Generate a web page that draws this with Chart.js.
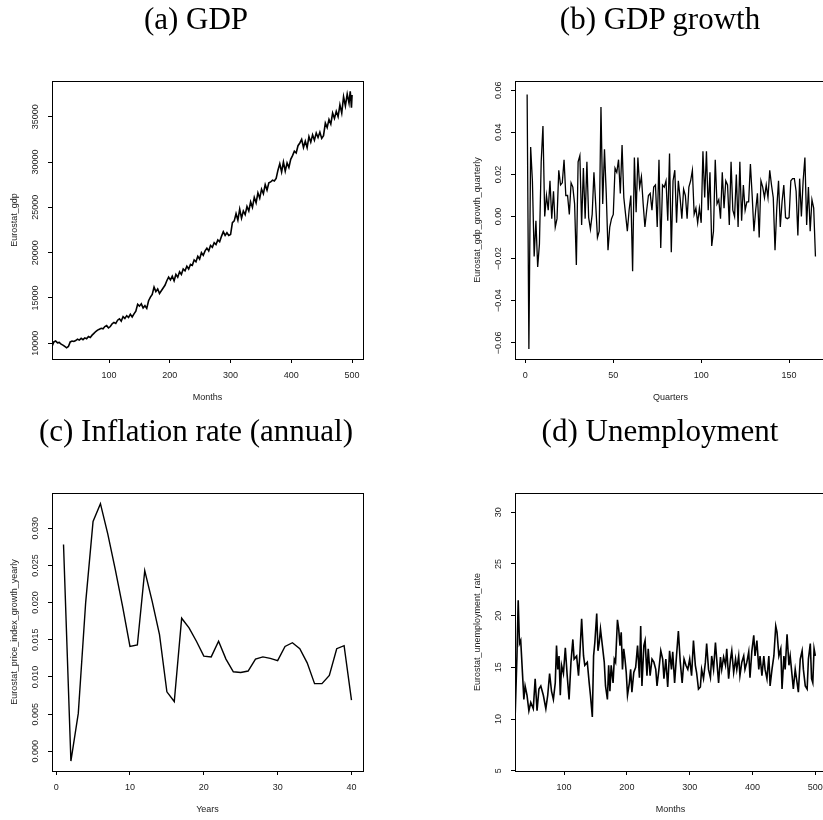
<!DOCTYPE html>
<html>
<head>
<meta charset="utf-8">
<script src="https://cdn.jsdelivr.net/npm/chart.js@4.4.0/dist/chart.umd.min.js"></script>
<style>
    html, body { margin: 0; padding: 0; background: #fff; }
    body { width: 823px; height: 820px; overflow: hidden; position: relative; }
    .panel { position: absolute; width: 412px; height: 412px; }
    .panel canvas { position: absolute; left: 0; top: 0; }
    .caption {
        position: absolute; width: 400px; text-align: center; white-space: nowrap;
        font-family: "Liberation Serif", "Times New Roman", serif; font-size: 31px; line-height: 31px; color: #000;
    }
</style>
</head>
<body>

<div class="panel" style="left:0; top:0;"><canvas id="chart-gdp" width="412" height="412"></canvas></div>
<div class="panel" style="left:463px; top:0;"><canvas id="chart-growth" width="412" height="412"></canvas></div>
<div class="panel" style="left:0; top:412px;"><canvas id="chart-inflation" width="412" height="412"></canvas></div>
<div class="panel" style="left:463px; top:412px;"><canvas id="chart-unemp" width="412" height="412"></canvas></div>

<div class="caption" style="left:-4px; top:3px;">(a) GDP</div>
<div class="caption" style="left:460px; top:3px;">(b) GDP growth</div>
<div class="caption" style="left:-4px; top:415px;">(c) Inflation rate (annual)</div>
<div class="caption" style="left:460px; top:415px;">(d) Unemployment</div>

<script>
/* (a) GDP, mensual */
const gdpMonths = [
    6, 9, 12, 15, 18, 21, 24, 27, 30, 33, 36, 39, 42, 45, 48, 51, 54, 57, 60, 63,
    66, 69, 72, 75, 78, 81, 84, 87, 90, 93, 96, 99, 102, 105, 108, 111, 114, 117, 120, 123,
    126, 129, 132, 135, 138, 141, 144, 147, 150, 153, 156, 159, 162, 165, 168, 171, 174, 177, 180, 183,
    186, 189, 192, 195, 198, 201, 204, 207, 210, 213, 216, 219, 222, 225, 228, 231, 234, 237, 240, 243,
    246, 249, 252, 255, 258, 261, 264, 267, 270, 273, 276, 279, 282, 285, 288, 291, 294, 297, 300, 303,
    306, 309, 312, 315, 318, 321, 324, 327, 330, 333, 336, 339, 342, 345, 348, 351, 354, 357, 360, 363,
    366, 369, 372, 375, 378, 381, 384, 387, 390, 393, 396, 399, 402, 405, 408, 411, 414, 417, 420, 423,
    426, 429, 432, 435, 438, 441, 444, 447, 450, 453, 456, 459, 462, 465, 468, 471, 474, 477, 480, 483,
    486, 489, 492, 495, 497, 499, 500
];
const gdpValues = [
    9650, 10150, 10250, 10050, 10100, 9900, 9800, 9650, 9500, 9650, 10150, 10250, 10200, 10300, 10450, 10350, 10550, 10400, 10600, 10500,
    10750, 10650, 10900, 11100, 11300, 11450, 11550, 11650, 11600, 11850, 11950, 11700, 11850, 12150, 12300, 12200, 12550, 12700, 12450, 12950,
    12750, 13050, 12850, 13200, 12900, 13250, 13550, 14300, 14100, 14350, 13900, 14150, 13850, 14700, 15100, 15400, 16200, 15700, 16000, 15500,
    15800, 16100, 16400, 16900, 17300, 17000, 17400, 16900, 17600, 17300, 17900, 17600, 18200, 18000, 18500, 18200, 18700, 18600, 19200, 19000,
    19600, 19300, 20000, 19700, 20200, 20500, 20200, 20800, 20600, 21100, 20900, 21400, 21200, 21800, 22300, 21900, 22200, 21900, 22000, 23300,
    23500, 24300, 23600, 24800, 23800, 24600, 24200, 25100, 24600, 25600, 25000, 26100, 25500, 26600, 26000, 27000, 26500, 27500, 26900, 27700,
    27800, 28000, 27900, 28200, 29100, 29800, 28900, 30000, 29000, 29900, 29400, 30300, 30700, 31200, 31000, 31800, 32100, 32500, 31600, 32300,
    31600, 32800, 32200, 33000, 32400, 33200, 32700, 33300, 32600, 32900, 34300, 33800, 34700, 34200, 35400, 34800, 35600, 35000, 36300, 35400,
    37200, 36200, 37500, 36500, 37800, 36000, 37400
];
const gdpXTicks = [100, 200, 300, 400, 500];
const gdpYTicks = [10000, 15000, 20000, 25000, 30000, 35000];
const gdpYLabels = ['10000', '15000', '20000', '25000', '30000', '35000'];

/* (b) crecimiento trimestral, trimestres 1..165 */
const growthQuarterly = [
    0.058, -0.063, 0.033, 0.017, -0.019, -0.002, -0.024, -0.013, 0.026, 0.043,
    0.000, 0.010, 0.003, 0.017, -0.001, 0.012, -0.005, -0.001, 0.022, 0.015,
    0.016, 0.027, 0.010, 0.010, 0.001, 0.016, 0.014, 0.006, -0.023, 0.026,
    0.029, -0.004, 0.023, -0.001, 0.026, -0.0005, -0.006, 0.001, 0.021, 0.006,
    -0.010, -0.007, 0.052, 0.006, 0.032, 0.011, -0.016, -0.005, -0.001, 0.001,
    0.023, 0.021, 0.027, 0.011, 0.034, 0.009, 0.001, -0.007, 0.003, 0.010,
    -0.026, 0.028, 0.002, 0.028, 0.014, 0.019, 0.006, -0.005, 0.003, 0.010,
    0.011, 0.003, 0.014, 0.015, -0.005, 0.027, -0.015, 0.015, 0.014, 0.017,
    -0.002, 0.030, -0.017, 0.017, 0.022, -0.003, 0.017, 0.009, -0.001, 0.013,
    0.010, -0.001, 0.014, 0.017, 0.022, 0.001, 0.004, -0.003, 0.004, -0.003,
    0.031, 0.009, 0.031, 0.003, 0.021, -0.014, -0.007, 0.027, 0.006, 0.008,
    -0.001, 0.021, 0.004, 0.017, 0.015, -0.004, 0.026, 0.003, 0.000, 0.020,
    -0.005, 0.026, -0.002, 0.015, 0.003, 0.007, 0.007, 0.025, 0.010, -0.007,
    0.003, 0.011, -0.010, 0.017, 0.014, 0.009, 0.015, 0.009, 0.022, 0.015,
    0.009, -0.016, 0.004, 0.017, -0.005, 0.007, 0.015, -0.0005, -0.001, -0.0005,
    0.017, 0.018, 0.018, 0.012, -0.009, 0.018, 0.000, 0.017, 0.028, -0.004,
    0.014, -0.007, 0.008, 0.004, -0.019
];
const growthXTicks = [0, 50, 100, 150];
const growthYTicks = [-0.06, -0.04, -0.02, 0, 0.02, 0.04, 0.06];
const growthYLabels = ['\u22120.06', '\u22120.04', '\u22120.02', '0.00', '0.02', '0.04', '0.06'];

/* (c) inflacion anual, anios 1..40 */
const inflationYearly = [
    0.0278, -0.0013, 0.0051, 0.0200, 0.0309, 0.0333, 0.0292, 0.0245, 0.0195, 0.0141,
    0.0143, 0.0243, 0.0202, 0.0157, 0.0080, 0.0067, 0.0179, 0.0166, 0.0148, 0.0128,
    0.0127, 0.0148, 0.0124, 0.0107, 0.0106, 0.0108, 0.0124, 0.0127, 0.0125, 0.0122,
    0.0141, 0.0146, 0.0138, 0.0119, 0.0091, 0.0091, 0.0102, 0.0138, 0.0142, 0.0069
];
const inflationXTicks = [0, 10, 20, 30, 40];
const inflationYTicks = [0, 0.005, 0.010, 0.015, 0.020, 0.025, 0.030];
const inflationYLabels = ['0.000', '0.005', '0.010', '0.015', '0.020', '0.025', '0.030'];

/* (d) desempleo, mensual */
const unempMonths = [
    22, 25, 27, 29, 31, 34, 36, 38, 41, 44, 47, 51, 54, 57, 60, 63, 67, 71, 74, 77,
    80, 83, 86, 88, 90, 92, 94, 96, 99, 102, 105, 108, 111, 114, 116, 120, 123, 125, 128, 131,
    133, 137, 140, 142, 145, 147, 149, 152, 154, 156, 158, 161, 164, 166, 169, 171, 173, 175, 178, 180,
    182, 185, 187, 189, 191, 193, 195, 197, 199, 201, 204, 206, 208, 211, 214, 217, 220, 222, 224, 227,
    229, 232, 234, 237, 240, 243, 246, 248, 251, 254, 257, 259, 262, 265, 268, 271, 273, 276, 279, 282,
    285, 288, 291, 294, 297, 300, 303, 306, 309, 311, 314, 317, 319, 322, 325, 327, 330, 333, 335, 338,
    341, 343, 346, 349, 351, 354, 357, 359, 362, 365, 367, 370, 373, 375, 378, 380, 383, 386, 388, 391,
    394, 396, 399, 402, 404, 407, 410, 412, 415, 418, 420, 423, 426, 428, 431, 434, 437, 439, 442, 445,
    447, 450, 452, 455, 458, 460, 463, 465, 468, 471, 473, 476, 479, 481, 484, 487, 489, 492, 494, 496,
    498, 500
];
const unempRate = [
    10.0, 16.1, 21.5, 17.3, 17.6, 14.2, 11.9, 13.2, 12.3, 10.8, 11.6, 11.0, 13.9, 10.8, 12.9, 13.2, 12.3, 11.0, 12.3, 14.4,
    12.7, 11.9, 13.5, 17.1, 14.8, 16.1, 12.3, 15.2, 14.4, 16.9, 14.2, 11.9, 15.5, 17.7, 15.8, 16.1, 14.2, 16.1, 19.7, 16.1,
    15.2, 15.5, 13.5, 12.3, 10.2, 16.1, 17.4, 20.2, 16.6, 17.4, 18.7, 17.1, 15.5, 13.2, 11.9, 15.2, 12.7, 15.2, 13.5, 15.8,
    15.5, 19.6, 18.7, 17.1, 18.4, 14.8, 16.8, 15.8, 14.5, 12.3, 13.5, 14.8, 12.6, 14.5, 15.0, 17.1, 14.0, 19.0, 13.2, 17.1,
    17.6, 14.2, 16.8, 14.2, 15.8, 15.5, 14.8, 13.2, 14.8, 16.6, 15.8, 13.9, 15.8, 13.1, 16.6, 14.8, 16.5, 13.5, 16.1, 18.5,
    15.5, 13.5, 15.8, 15.2, 14.8, 15.8, 14.2, 17.6, 15.2, 14.5, 12.9, 13.1, 14.8, 13.9, 15.5, 17.3, 14.8, 14.0, 16.1, 14.8,
    17.4, 15.8, 13.5, 16.0, 14.8, 16.0, 15.2, 16.8, 13.9, 15.8, 16.6, 14.5, 15.8, 14.8, 16.1, 14.2, 15.5, 16.1, 14.8, 15.5,
    16.5, 14.0, 16.6, 18.1, 16.1, 17.6, 14.8, 16.1, 14.2, 16.1, 14.8, 13.9, 16.1, 13.2, 14.8, 16.1, 19.0, 18.4, 16.1, 16.8,
    12.9, 16.1, 14.8, 18.2, 15.2, 16.1, 14.2, 12.9, 14.8, 13.5, 12.6, 15.8, 16.6, 14.8, 13.2, 12.9, 15.8, 17.3, 13.9, 13.5,
    16.8, 16.1
];
const unempXTicks = [100, 200, 300, 400, 500];
const unempYTicks = [5, 10, 15, 20, 25, 30];
const unempYLabels = ['5', '10', '15', '20', '25', '30'];

const FUENTE = '"Liberation Sans", Arial, Helvetica, sans-serif';

// caja completa estilo R + etiquetas del eje y giradas
function pluginCaja(yLabels) {
    return {
        id: 'cajaR',
        afterDraw(chart) {
            const { ctx, chartArea: a } = chart;
            const ys = chart.scales.y;
            ctx.save();
            ctx.strokeStyle = '#000';
            ctx.lineWidth = 1;
            ctx.strokeRect(Math.round(a.left) + 0.5, Math.round(a.top) + 0.5,
                Math.round(a.right - a.left), Math.round(a.bottom - a.top));
            ctx.fillStyle = '#222';
            ctx.font = '9px ' + FUENTE;
            ctx.textAlign = 'center';
            ctx.textBaseline = 'middle';
            ys.ticks.forEach((t, i) => {
                const py = ys.getPixelForValue(t.value);
                ctx.save();
                ctx.translate(a.left - 16, py);
                ctx.rotate(-Math.PI / 2);
                ctx.fillText(yLabels[i], 0, 0);
                ctx.restore();
            });
            ctx.restore();
        }
    };
}

function crearPanel(id, cfg) {
    const ctx = document.getElementById(id);
    const puntos = cfg.xs.map((x, i) => ({ x: x, y: cfg.ys[i] }));
    const ejeComun = {
        border: { display: false },
        grid: { display: true, drawOnChartArea: false, drawTicks: true, tickLength: 4, color: '#000', tickWidth: 1 },
    };
    new Chart(ctx, {
        type: 'line',
        data: {
            datasets: [{
                data: puntos,
                borderColor: '#000',
                borderWidth: cfg.grosor,
                pointRadius: 0,
                tension: 0,
                fill: false
            }]
        },
        options: {
            responsive: false,
            animation: false,
            devicePixelRatio: 1,
            layout: { padding: { top: 81, right: 49, bottom: 0, left: 0 } },
            plugins: { legend: { display: false }, tooltip: { enabled: false } },
            scales: {
                x: {
                    ...ejeComun,
                    type: 'linear',
                    min: cfg.xMin,
                    max: cfg.xMax,
                    afterBuildTicks: s => { s.ticks = cfg.xTicks.map(v => ({ value: v })); },
                    afterFit: s => { s.height = 53; },
                    ticks: { autoSkip: false, maxRotation: 0, padding: 7.6, color: '#222', font: { family: FUENTE, size: 9 } },
                    title: { display: true, text: cfg.xTitle, color: '#222', font: { family: FUENTE, size: 9 }, padding: { top: 0, bottom: 8.6 } }
                },
                y: {
                    ...ejeComun,
                    type: 'linear',
                    min: cfg.yMin,
                    max: cfg.yMax,
                    afterBuildTicks: s => { s.ticks = cfg.yTicks.map(v => ({ value: v })); },
                    afterFit: s => { s.width = 52; },
                    ticks: { display: false },
                    title: { display: true, text: cfg.yTitle, color: '#222', font: { family: FUENTE, size: 9 }, padding: { top: 9.6, bottom: 0 } }
                }
            }
        },
        plugins: [pluginCaja(cfg.yLabels)]
    });
}

crearPanel('chart-gdp', {
    xs: gdpMonths, ys: gdpValues, grosor: 1.6,
    xMin: 6, xMax: 518, yMin: 8268, yMax: 38938,
    xTicks: gdpXTicks, yTicks: gdpYTicks, yLabels: gdpYLabels,
    xTitle: 'Months', yTitle: 'Eurostat_gdp'
});

crearPanel('chart-growth', {
    xs: growthQuarterly.map((v, i) => i + 1), ys: growthQuarterly, grosor: 1.3,
    xMin: -5.9, xMax: 171, yMin: -0.0677, yMax: 0.0644,
    xTicks: growthXTicks, yTicks: growthYTicks, yLabels: growthYLabels,
    xTitle: 'Quarters', yTitle: 'Eurostat_gdp_growth_quarterly'
});

crearPanel('chart-inflation', {
    xs: inflationYearly.map((v, i) => i + 1), ys: inflationYearly, grosor: 1.4,
    xMin: -0.56, xMax: 41.56, yMin: -0.00264, yMax: 0.03473,
    xTicks: inflationXTicks, yTicks: inflationYTicks, yLabels: inflationYLabels,
    xTitle: 'Years', yTitle: 'Eurostat_price_index_growth_yearly'
});

crearPanel('chart-unemp', {
    xs: unempMonths, ys: unempRate, grosor: 1.6,
    xMin: 21.9, xMax: 517, yMin: 4.97, yMax: 31.87,
    xTicks: unempXTicks, yTicks: unempYTicks, yLabels: unempYLabels,
    xTitle: 'Months', yTitle: 'Eurostat_unemployment_rate'
});
</script>
</body>
</html>
